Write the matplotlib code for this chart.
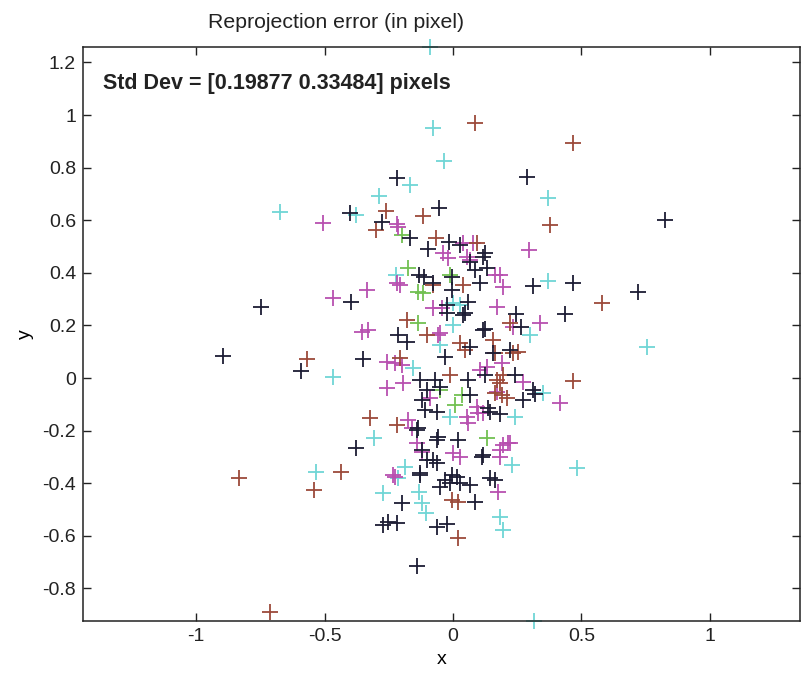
import matplotlib
matplotlib.use("Agg")
import matplotlib.pyplot as plt

plt.rcParams['font.family'] = ['Liberation Sans', 'DejaVu Sans']

# ── Reprojection errors, one array pair per colour ──────────────────────────
navy_x = [-0.218, 0.288, 0.825, -0.401, -0.276, -0.054, -0.167, -0.097, -0.016, 0.027,
          0.066, 0.117, 0.132, 0.086, 0.125, 0.105, 0.311, 0.467, 0.720, 0.245,
          0.436, 0.265, 0.125, 0.156, 0.125, 0.241, 0.272, 0.319, 0.144, 0.183,
          0.113, 0.144, -0.747, -0.350, -0.895, -0.591, -0.377, -0.253, -0.272, -0.218,
          -0.198, -0.062, -0.023, -0.140, -0.012, 0.027, 0.066, -0.051, -0.031, 0.086,
          0.163, -0.128, -0.078, -0.121, -0.140, -0.062, -0.004, -0.004, -0.132, -0.113,
          -0.078, -0.397, 0.058, -0.023, -0.023, 0.047, -0.214, -0.179, 0.066, 0.222,
          -0.031, -0.128, 0.058, 0.311, -0.101, 0.117, -0.051, 0.066, 0.136, -0.121,
          -0.109, -0.062, -0.136, -0.058, 0.019, 0.117, -0.101, -0.062, -0.128, -0.004,
          0.016, 0.039, -0.070]
navy_y = [0.760, 0.764, 0.601, 0.627, 0.593, 0.646, 0.532, 0.490, 0.517, 0.506,
          0.441, 0.460, 0.418, 0.411, 0.475, 0.361, 0.350, 0.361, 0.327, 0.243,
          0.243, 0.194, 0.186, 0.095, 0.011, 0.011, -0.084, -0.061, -0.129, -0.137,
          -0.300, -0.380, 0.270, 0.072, 0.084, 0.027, -0.266, -0.548, -0.559, -0.551,
          -0.475, -0.567, -0.555, -0.715, -0.399, -0.399, -0.407, -0.414, -0.388, -0.471,
          -0.388, -0.369, -0.312, -0.274, -0.198, -0.236, 0.384, 0.335, 0.392, 0.384,
          0.361, 0.289, 0.289, 0.278, 0.247, 0.247, 0.163, 0.137, 0.118, 0.106,
          0.080, -0.008, -0.008, -0.046, -0.046, 0.183, -0.034, -0.065, -0.114, -0.084,
          -0.122, -0.129, -0.190, -0.224, -0.236, -0.293, -0.312, -0.323, -0.361, -0.369,
          -0.376, 0.240, -0.008]

magenta_x = [-0.506, -0.218, -0.214, 0.296, 0.163, 0.195, 0.183, 0.171, 0.339, 0.191,
             0.272, 0.416, 0.117, 0.214, 0.183, -0.218, -0.467, -0.335, -0.354, -0.331,
             -0.257, -0.226, -0.257, -0.226, -0.039, -0.019, 0.039, 0.054, 0.078, 0.066,
             -0.206, -0.078, -0.043, -0.198, 0.105, 0.132, -0.195, -0.089, 0.093, 0.097,
             0.054, 0.058, -0.175, -0.160, -0.140, -0.121, 0.195, 0.222, 0.000, 0.027,
             -0.233, 0.175, 0.183, -0.051, 0.233, 0.171, -0.058]
magenta_y = [0.589, 0.586, 0.574, 0.487, 0.392, 0.346, 0.392, 0.270, 0.209, 0.057,
             -0.015, -0.095, -0.133, -0.247, -0.300, 0.361, 0.304, 0.335, 0.175, 0.183,
             0.061, 0.057, -0.038, -0.376, 0.475, 0.456, 0.513, 0.460, 0.513, 0.449,
             0.354, 0.266, 0.266, 0.049, 0.030, 0.042, -0.019, -0.076, -0.110, -0.133,
             -0.148, -0.171, -0.160, -0.190, -0.247, -0.281, -0.255, -0.247, -0.285, -0.300,
             -0.369, -0.433, -0.274, 0.171, 0.194, -0.053, 0.163]

brown_x = [0.086, 0.467, 0.377, -0.261, -0.300, -0.117, -0.066, 0.093, 0.580, 0.222,
           0.156, 0.163, 0.233, 0.253, 0.195, 0.467, 0.163, 0.191, 0.210, 0.039,
           -0.078, -0.568, -0.179, -0.101, 0.027, 0.047, -0.206, 0.171, 0.183, -0.012,
           -0.323, -0.218, -0.833, -0.436, -0.541, 0.019, -0.004, 0.019, -0.712]
brown_y = [0.970, 0.894, 0.582, 0.635, 0.563, 0.616, 0.532, 0.513, 0.285, 0.209,
           0.144, 0.095, 0.095, 0.099, 0.011, -0.011, -0.057, -0.065, -0.076, 0.354,
           0.354, 0.072, 0.221, 0.163, 0.133, 0.106, 0.076, -0.008, -0.019, 0.011,
           -0.152, -0.179, -0.380, -0.357, -0.426, -0.608, -0.464, -0.471, -0.890]

cyan_x = [-0.089, -0.078, -0.035, 0.370, -0.167, -0.288, -0.673, -0.377, 0.370, 0.300,
          0.755, 0.350, 0.241, 0.230, 0.482, -0.222, -0.467, -0.307, -0.533, -0.272,
          -0.214, -0.132, -0.121, -0.105, 0.183, 0.195, 0.315, 0.000, 0.027, 0.000,
          -0.051, -0.156, -0.012, -0.187]
cyan_y = [1.259, 0.951, 0.825, 0.684, 0.734, 0.692, 0.631, 0.620, 0.369, 0.163,
          0.118, -0.057, -0.148, -0.331, -0.342, 0.392, 0.004, -0.228, -0.357, -0.437,
          -0.380, -0.433, -0.475, -0.513, -0.529, -0.578, -0.924, 0.285, 0.278, 0.202,
          0.125, 0.038, -0.148, -0.338]

green_x = [-0.198, -0.175, -0.136, -0.117, -0.012, -0.136, 0.035, 0.132, -0.051, 0.008]
green_y = [0.544, 0.418, 0.327, 0.323, 0.392, 0.209, -0.065, -0.228, -0.046, -0.103]

series = [
    (cyan_x, cyan_y, '#6fd6d6'),
    (green_x, green_y, '#72c052'),
    (magenta_x, magenta_y, '#b850b0'),
    (brown_x, brown_y, '#9c4a3a'),
    (navy_x, navy_y, '#1c1c34'),
]

# ── Plot ─────────────────────────────────────────────────────────────────────
fig = plt.figure(figsize=(8.01, 6.81), dpi=100)
ax = fig.add_axes([0.1036, 0.0881, 0.895, 0.843])

for xs, ys, col in series:
    ax.plot(xs, ys, '+', color=col, markersize=11, markeredgewidth=1.3,
            linestyle='none', clip_on=False)

ax.set_xlim(-1.44, 1.35)
ax.set_ylim(-0.924, 1.259)
ax.set_xticks([-1, -0.5, 0, 0.5, 1])
ax.set_xticklabels(['-1', '-0.5', '0', '0.5', '1'])
ax.set_yticks([-0.8, -0.6, -0.4, -0.2, 0, 0.2, 0.4, 0.6, 0.8, 1, 1.2])
ax.set_yticklabels(['-0.8', '-0.6', '-0.4', '-0.2', '0', '0.2', '0.4', '0.6', '0.8', '1', '1.2'])
ax.tick_params(direction='in', length=6, width=1, top=True, right=True,
               labelsize=14, pad=5, colors='#222222')
for s in ax.spines.values():
    s.set_linewidth(1.1)
    s.set_color('#222222')

ax.set_xlabel('x', fontsize=14, labelpad=4)
ax.set_ylabel('y', fontsize=14, labelpad=6)

ax.text(0.028, 0.937, 'Std Dev = [0.19877 0.33484] pixels', transform=ax.transAxes,
        fontsize=15.5, fontweight='bold', va='center', ha='left', color='#222222')
fig.text(0.42, 0.967, 'Reprojection error (in pixel)', fontsize=15.3,
         ha='center', va='center', color='#222222')

plt.savefig('out.png', dpi=100)
